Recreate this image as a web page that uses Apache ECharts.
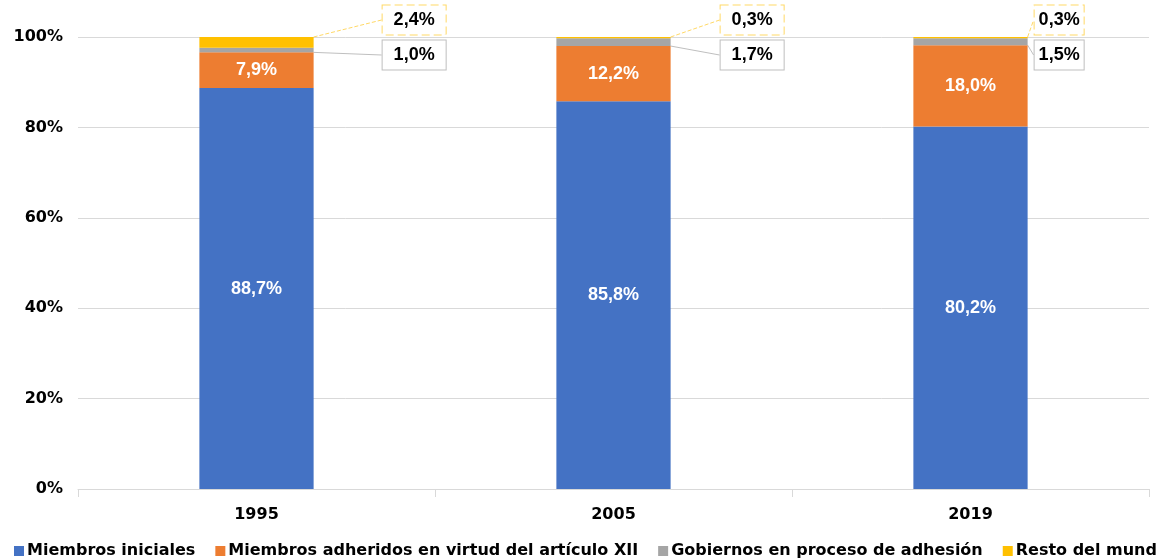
<!DOCTYPE html>
<html>
<head>
<meta charset="utf-8">
<script src="https://cdn.jsdelivr.net/npm/echarts@6/dist/echarts.min.js"></script>
<style>
    html, body { margin: 0; padding: 0; background: #fff; }
    #chart { width: 1156px; height: 559px; }
</style>
</head>
<body>
<div id="chart"></div>
<script>
'use strict'
// datos
var years = ['1995', '2005', '2019'];
var miembrosIniciales = [88.7, 85.8, 80.2];
var miembrosArticuloXII = [7.9, 12.2, 18.0];
var gobiernosAdhesion = [1.0, 1.7, 1.5];
var restoMundo = [2.4, 0.3, 0.3];
var yTicks = [0, 20, 40, 60, 80, 100];

var seriesNames = ['Miembros iniciales', 'Miembros adheridos en virtud del artículo XII', 'Gobiernos en proceso de adhesión', 'Resto del mundo'];
var colors = ['#4472c4', '#ed7d31', '#a5a5a5', '#ffc000'];

// posicion de los recuadros (desplazamiento desde el borde derecho de la barra)
var calloutOffset = [69, 50, 7];
var gridTop = 37;

function fmt(v) {
    return v.toFixed(1).replace('.', ',') + '%';
}

var chart = echarts.init(document.getElementById('chart'));

function insideSeries(i, data) {
    return {
        name: seriesNames[i],
        type: 'bar',
        stack: 'total',
        barWidth: '32%',
        itemStyle: { color: colors[i] },
        label: {
            show: true,
            position: 'inside',
            color: '#fff',
            fontFamily: 'Liberation Sans',
            fontWeight: 'bold',
            fontSize: 18,
            formatter: function (p) { return fmt(p.value); }
        },
        data: data
    };
}

function calloutSeries(i, data, borderColor, borderType, dy) {
    return {
        name: seriesNames[i],
        type: 'bar',
        stack: 'total',
        barWidth: '32%',
        itemStyle: { color: colors[i] },
        label: {
            show: true,
            position: 'inside',
            color: '#000',
            fontFamily: 'Liberation Sans',
            fontWeight: 'bold',
            fontSize: 18,
            backgroundColor: '#fff',
            borderColor: borderColor,
            borderType: borderType,
            borderWidth: 1,
            padding: [6, 11, 5, 11],
            formatter: function (p) { return fmt(p.value); }
        },
        labelLine: {
            show: true,
            lineStyle: { color: borderColor, width: 1, type: borderType }
        },
        labelLayout: function (p) {
            return {
                x: p.rect.x + p.rect.width + calloutOffset[p.dataIndex],
                y: gridTop + dy,
                align: 'left',
                verticalAlign: 'middle'
            };
        },
        data: data.map(function (v, k) {
            var item = { value: v };
            if (k === 2) item.label = { padding: [6, 4, 5, 4] };
            return item;
        })
    };
}

var option = {
    backgroundColor: '#fff',
    animation: false,
    grid: { left: 78, right: 7, top: gridTop, bottom: 70 },
    legend: {
        left: 9,
        top: 538,
        width: 2000,
        icon: 'rect',
        itemWidth: 10,
        itemHeight: 10,
        itemGap: 20,
        textStyle: { color: '#000', fontFamily: 'DejaVu Sans', fontWeight: 'bold', fontSize: 16, padding: [0, 0, 0, -2] },
        data: seriesNames
    },
    xAxis: {
        type: 'category',
        data: years,
        axisLine: { show: true, lineStyle: { color: '#d9d9d9' } },
        axisTick: { show: true, length: 8, lineStyle: { color: '#d9d9d9' } },
        axisLabel: { color: '#000', fontFamily: 'DejaVu Sans', fontWeight: 'bold', fontSize: 16, margin: 18 }
    },
    yAxis: {
        type: 'value',
        min: yTicks[0],
        max: yTicks[yTicks.length - 1],
        interval: yTicks[1] - yTicks[0],
        axisLine: { show: false },
        axisTick: { show: false },
        splitLine: { lineStyle: { color: '#d9d9d9' } },
        axisLabel: {
            color: '#000', fontFamily: 'DejaVu Sans', fontWeight: 'bold', fontSize: 16, margin: 15,
            formatter: function (v) { return v + '%'; }
        }
    },
    series: [
        insideSeries(0, miembrosIniciales),
        insideSeries(1, miembrosArticuloXII),
        calloutSeries(2, gobiernosAdhesion, '#bfbfbf', 'solid', 18),
        calloutSeries(3, restoMundo, '#ffd966', 'dashed', -17)
    ]
};
chart.setOption(option);
</script>
</body>
</html>
